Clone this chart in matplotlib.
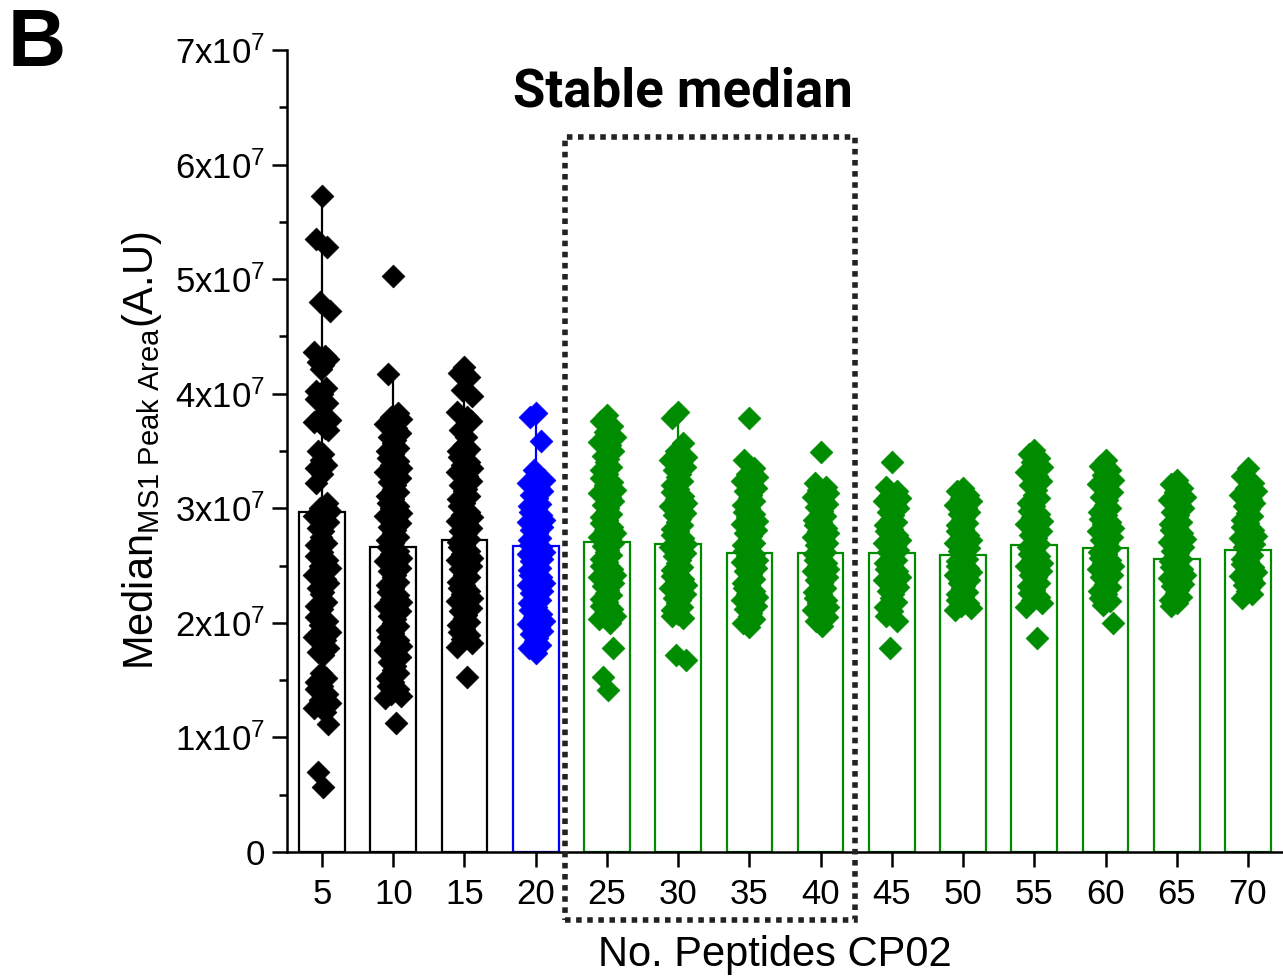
import numpy as np
import matplotlib
matplotlib.use("Agg")
import matplotlib.pyplot as plt
from matplotlib.patches import Rectangle
from matplotlib.ticker import FixedLocator, MultipleLocator, FuncFormatter

plt.rcParams['font.family'] = ['Liberation Sans', 'DejaVu Sans']
plt.rcParams['mathtext.fontset'] = 'custom'
plt.rcParams['mathtext.rm'] = 'Liberation Sans'
plt.rcParams['mathtext.it'] = 'Liberation Sans:italic'
plt.rcParams['mathtext.bf'] = 'Liberation Sans:bold'

# number of peptides (x categories)
n_peptides = [5, 10, 15, 20, 25, 30, 35, 40, 45, 50, 55, 60, 65, 70]

# median of medians (bar heights), units of 1e7
bar_median = [2.97, 2.66, 2.72, 2.67, 2.71, 2.69, 2.61, 2.61, 2.61, 2.59, 2.68, 2.65, 2.56, 2.64]

# upper whisker, units of 1e7
whisker_top = [5.73, 4.17, 3.95, 3.80, 3.75, 3.80, 3.42, 3.22, 3.19, 3.18, 3.51, 3.42, 3.25, 3.30]

# individual medians per group, units of 1e7
g5 = [5.73, 5.35, 5.28, 4.80, 4.72, 4.36, 4.33, 4.30, 4.28, 4.25, 4.22, 4.05, 4.02, 4.00,
      3.95, 3.92, 3.80, 3.77, 3.75, 3.70, 3.68, 3.50, 3.47, 3.42, 3.38, 3.35, 3.30, 3.22,
      3.05, 3.00, 2.98, 2.93, 2.90, 2.88, 2.83, 2.80, 2.75, 2.70, 2.68, 2.62, 2.58, 2.55,
      2.50, 2.48, 2.42, 2.38, 2.35, 2.30, 2.27, 2.25, 2.18, 2.15, 2.12, 2.05, 2.02, 1.98,
      1.92, 1.88, 1.85, 1.78, 1.75, 1.72, 1.56, 1.52, 1.48, 1.45, 1.42, 1.38, 1.33, 1.30,
      1.26, 1.22, 1.12, 0.70, 0.57]
g10 = [5.03, 4.17, 3.83, 3.80, 3.78, 3.74, 3.70, 3.66, 3.62, 3.60, 3.57, 3.53, 3.50, 3.47,
       3.44, 3.41, 3.38, 3.35, 3.32, 3.30, 3.26, 3.23, 3.20, 3.17, 3.14, 3.11, 3.08, 3.05,
       3.02, 3.00, 2.96, 2.93, 2.90, 2.87, 2.84, 2.81, 2.78, 2.75, 2.72, 2.70, 2.66, 2.63,
       2.60, 2.57, 2.54, 2.51, 2.48, 2.45, 2.42, 2.40, 2.36, 2.33, 2.30, 2.27, 2.24, 2.21,
       2.18, 2.15, 2.12, 2.10, 2.06, 2.03, 2.00, 1.97, 1.94, 1.91, 1.88, 1.85, 1.82, 1.80,
       1.76, 1.73, 1.70, 1.66, 1.62, 1.59, 1.56, 1.52, 1.48, 1.45, 1.42, 1.38, 1.36, 1.34,
       1.13]
g15 = [4.23, 4.18, 4.15, 4.03, 3.98, 3.84, 3.80, 3.76, 3.68, 3.62, 3.55, 3.52, 3.50, 3.47,
       3.45, 3.40, 3.38, 3.35, 3.32, 3.28, 3.24, 3.20, 3.17, 3.15, 3.11, 3.08, 3.05, 3.02,
       2.97, 2.94, 2.92, 2.89, 2.86, 2.83, 2.80, 2.78, 2.76, 2.73, 2.71, 2.68, 2.66, 2.63,
       2.60, 2.57, 2.55, 2.52, 2.50, 2.47, 2.45, 2.42, 2.40, 2.36, 2.33, 2.30, 2.28, 2.25,
       2.22, 2.19, 2.16, 2.13, 2.10, 2.07, 2.04, 2.01, 1.98, 1.95, 1.92, 1.89, 1.86, 1.82,
       1.79, 1.53]
g20 = [3.83, 3.80, 3.59, 3.33, 3.25, 3.22, 3.18, 3.15, 3.12, 3.09, 3.06, 3.04, 3.02, 2.99,
       2.97, 2.94, 2.92, 2.90, 2.88, 2.86, 2.84, 2.81, 2.78, 2.76, 2.74, 2.72, 2.70, 2.68,
       2.66, 2.64, 2.62, 2.60, 2.58, 2.56, 2.54, 2.52, 2.50, 2.48, 2.46, 2.44, 2.42, 2.40,
       2.38, 2.35, 2.33, 2.30, 2.28, 2.26, 2.24, 2.22, 2.20, 2.17, 2.14, 2.11, 2.08, 2.05,
       2.02, 1.99, 1.96, 1.93, 1.90, 1.87, 1.84, 1.81, 1.78, 1.74]
g25 = [3.81, 3.76, 3.72, 3.67, 3.62, 3.58, 3.55, 3.50, 3.46, 3.43, 3.40, 3.36, 3.33, 3.30,
       3.26, 3.23, 3.20, 3.16, 3.13, 3.10, 3.06, 3.03, 3.00, 2.97, 2.95, 2.92, 2.90, 2.87,
       2.84, 2.81, 2.78, 2.75, 2.73, 2.70, 2.67, 2.64, 2.62, 2.59, 2.56, 2.53, 2.50, 2.47,
       2.45, 2.42, 2.40, 2.37, 2.35, 2.32, 2.29, 2.26, 2.24, 2.21, 2.18, 2.15, 2.12, 2.09,
       2.06, 2.03, 2.00, 1.78, 1.53, 1.41]
g30 = [3.84, 3.79, 3.57, 3.50, 3.45, 3.42, 3.40, 3.36, 3.33, 3.30, 3.27, 3.24, 3.20, 3.17,
       3.14, 3.11, 3.08, 3.05, 3.02, 2.99, 2.96, 2.94, 2.91, 2.88, 2.85, 2.82, 2.80, 2.77,
       2.74, 2.71, 2.69, 2.66, 2.64, 2.61, 2.58, 2.55, 2.52, 2.49, 2.46, 2.43, 2.41, 2.38,
       2.36, 2.33, 2.30, 2.27, 2.25, 2.22, 2.20, 2.17, 2.14, 2.11, 2.08, 2.06, 2.04, 1.72,
       1.68]
g35 = [3.79, 3.42, 3.35, 3.30, 3.27, 3.24, 3.21, 3.18, 3.15, 3.12, 3.09, 3.06, 3.03, 3.00,
       2.97, 2.95, 2.92, 2.89, 2.86, 2.84, 2.81, 2.78, 2.76, 2.73, 2.70, 2.68, 2.65, 2.63,
       2.60, 2.58, 2.55, 2.53, 2.50, 2.48, 2.45, 2.43, 2.40, 2.38, 2.35, 2.33, 2.30, 2.28,
       2.25, 2.23, 2.20, 2.18, 2.15, 2.12, 2.09, 2.06, 2.03, 2.00, 1.96]
g40 = [3.49, 3.22, 3.19, 3.16, 3.13, 3.10, 3.07, 3.04, 3.01, 2.98, 2.95, 2.93, 2.90, 2.88,
       2.85, 2.83, 2.80, 2.78, 2.75, 2.73, 2.70, 2.68, 2.66, 2.64, 2.62, 2.60, 2.57, 2.55,
       2.52, 2.50, 2.47, 2.45, 2.42, 2.40, 2.37, 2.35, 2.32, 2.30, 2.27, 2.25, 2.22, 2.20,
       2.17, 2.14, 2.11, 2.08, 2.05, 2.02, 1.97]
g45 = [3.40, 3.19, 3.15, 3.12, 3.09, 3.06, 3.03, 3.00, 2.97, 2.94, 2.91, 2.88, 2.85, 2.82,
       2.80, 2.77, 2.74, 2.72, 2.70, 2.67, 2.64, 2.62, 2.60, 2.57, 2.55, 2.52, 2.50, 2.47,
       2.45, 2.42, 2.40, 2.37, 2.34, 2.31, 2.28, 2.25, 2.22, 2.18, 2.14, 2.10, 2.06, 2.02,
       1.78]
g50 = [3.18, 3.15, 3.12, 3.09, 3.06, 3.03, 3.00, 2.97, 2.95, 2.92, 2.90, 2.87, 2.85, 2.82,
       2.80, 2.77, 2.75, 2.72, 2.70, 2.68, 2.65, 2.63, 2.60, 2.58, 2.56, 2.54, 2.52, 2.50,
       2.48, 2.46, 2.44, 2.42, 2.40, 2.37, 2.35, 2.32, 2.30, 2.27, 2.25, 2.22, 2.20, 2.17,
       2.15, 2.13, 2.11]
g55 = [3.51, 3.47, 3.44, 3.40, 3.36, 3.32, 3.28, 3.24, 3.20, 3.16, 3.12, 3.09, 3.05, 3.02,
       2.98, 2.95, 2.92, 2.89, 2.86, 2.83, 2.80, 2.77, 2.74, 2.71, 2.69, 2.66, 2.63, 2.60,
       2.58, 2.55, 2.52, 2.50, 2.47, 2.45, 2.42, 2.40, 2.37, 2.35, 2.32, 2.29, 2.26, 2.23,
       2.20, 2.17, 2.14, 1.87]
g60 = [3.42, 3.37, 3.33, 3.29, 3.25, 3.21, 3.17, 3.14, 3.10, 3.07, 3.03, 3.00, 2.97, 2.94,
       2.91, 2.88, 2.86, 2.83, 2.80, 2.77, 2.75, 2.72, 2.70, 2.67, 2.65, 2.62, 2.60, 2.57,
       2.55, 2.52, 2.50, 2.47, 2.45, 2.42, 2.40, 2.37, 2.34, 2.31, 2.28, 2.25, 2.22, 2.19,
       2.16, 2.00]
g65 = [3.25, 3.21, 3.18, 3.14, 3.10, 3.07, 3.03, 3.00, 2.97, 2.94, 2.91, 2.88, 2.86, 2.83,
       2.81, 2.78, 2.76, 2.73, 2.71, 2.68, 2.66, 2.63, 2.61, 2.58, 2.56, 2.54, 2.52, 2.49,
       2.47, 2.44, 2.42, 2.39, 2.37, 2.34, 2.32, 2.29, 2.26, 2.23, 2.20, 2.17, 2.15]
g70 = [3.35, 3.28, 3.22, 3.18, 3.15, 3.12, 3.08, 3.05, 3.02, 2.99, 2.96, 2.93, 2.90, 2.87,
       2.84, 2.81, 2.79, 2.76, 2.74, 2.71, 2.69, 2.66, 2.64, 2.61, 2.59, 2.56, 2.54, 2.51,
       2.49, 2.46, 2.44, 2.41, 2.38, 2.35, 2.33, 2.30, 2.28, 2.25, 2.22]

groups = [g5, g10, g15, g20, g25, g30, g35, g40, g45, g50, g55, g60, g65, g70]

BLACK = '#000000'
BLUE = '#0000ff'
GREEN = '#008c00'
colors = [BLACK, BLACK, BLACK, BLUE] + [GREEN] * 10

# fixed horizontal spread so diamonds don't sit exactly on top of each other
spread = [0.0, -0.4, 0.35, -0.15, 0.55, -0.55, 0.2, 0.45, -0.3, 0.1, -0.05, 0.3, -0.45]

fig = plt.figure(figsize=(12.83, 9.76), dpi=100)
ax = fig.add_axes([287 / 1283, 1 - 852 / 976, (1283 - 287) / 1283, (852 - 50) / 976])

scale = 1e7
for x, med, top, vals, c in zip(n_peptides, bar_median, whisker_top, groups, colors):
    ax.bar(x, med * scale, width=3.2, facecolor='white', edgecolor=c, linewidth=1.6, zorder=2)
    ax.plot([x, x], [med * scale, top * scale], color=c, lw=1.6, zorder=3)
    xs = [x + spread[i % len(spread)] for i in range(len(vals))]
    ax.scatter(xs, np.array(vals) * scale, marker='D', s=135, color=c,
               edgecolor=c, linewidth=0.5, zorder=4)

ax.set_xlim(2.54, 72.46)
ax.set_ylim(0, 7e7)

for s in ['top', 'right']:
    ax.spines[s].set_visible(False)
for s in ['left', 'bottom']:
    ax.spines[s].set_linewidth(1.8)

ax.xaxis.set_major_locator(FixedLocator(n_peptides))
ax.set_xticklabels([str(v) for v in n_peptides])
ax.yaxis.set_major_locator(MultipleLocator(1e7))
ax.yaxis.set_minor_locator(MultipleLocator(0.5e7))


def ylab(v, pos):
    k = int(round(v / 1e7))
    if k == 0:
        return '0'
    return f'{k}x10$^{{\\mathregular{{7}}}}$'


ax.yaxis.set_major_formatter(FuncFormatter(ylab))
ax.tick_params(axis='both', which='major', direction='out', length=11, width=1.8, labelsize=25)
ax.tick_params(axis='y', which='minor', direction='out', length=6, width=1.8)
ax.tick_params(axis='x', which='major', pad=8)
ax.tick_params(axis='y', which='major', pad=5)

ax.set_xlabel('No. Peptides CP02', fontsize=30, labelpad=17)
ax.xaxis.label.set_x(0.49)
ax.set_ylabel('Median$_{\\mathregular{MS1\\ Peak\\ Area}}$(A.U)', fontsize=30, labelpad=8)

# dotted box around the stable region
box = Rectangle((22.06, -0.59e7), 42.43 - 22.06, 6.24e7 + 0.59e7, fill=False,
                edgecolor='#222222', linewidth=4, linestyle=(0, (1, 1)),
                clip_on=False, zorder=5)
ax.add_patch(box)

fig.text(683 / 1283, 1 - 92 / 976, 'Stable median', ha='center', va='center',
         fontsize=38, fontweight='bold', family=['Roboto', 'DejaVu Sans'])
fig.text(8 / 1283, 1 - 45 / 976, 'B', ha='left', va='center', fontsize=58,
         fontweight='bold')

fig.savefig('out.png', dpi=100)
